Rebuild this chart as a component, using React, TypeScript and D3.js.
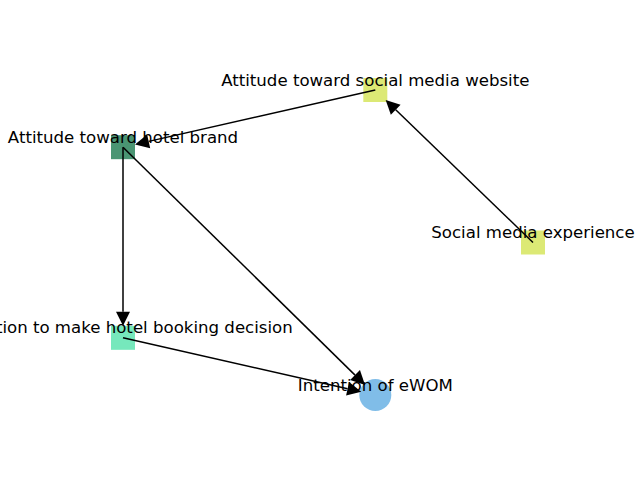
import * as d3 from "d3";

const nodeNames = [
  "Attitude toward social media website",
  "Attitude toward hotel brand",
  "Social media experience",
  "Intention to make hotel booking decision",
  "Intention of eWOM",
];
// layout coordinates (networkx-like)
const nodeX = [0.0, -0.8, 0.5, -0.8, 0.0];
const nodeY = [0.9, 0.6, 0.1, -0.4, -0.7];
const nodeColors = ["#dce975", "#4a9573", "#dce975", "#76e8bc", "#80bde8"];
const nodeShapes = ["s", "s", "s", "s", "o"];
const edges: [number, number][] = [
  [2, 0],
  [0, 1],
  [1, 3],
  [1, 4],
  [3, 4],
];

const W = 640;
const H = 480;

export default function App() {
  const x = d3.scaleLinear().domain([-0.8, 0.5]).range([123, 533]);
  const y = d3.scaleLinear().domain([-0.7, 0.9]).range([395, 90]);
  const half = 12;
  const r = 16;

  const edgeEls = edges.map(([s, t], i) => {
    const x1 = x(nodeX[s]), y1 = y(nodeY[s]);
    const x2 = x(nodeX[t]), y2 = y(nodeY[t]);
    const dx = x2 - x1, dy = y2 - y1;
    const len = Math.hypot(dx, dy);
    const ux = dx / len, uy = dy / len;
    const shrink = nodeShapes[t] === "o" ? r : half / Math.max(Math.abs(ux), Math.abs(uy));
    const ex = x2 - ux * Math.min(shrink, half * 1.2);
    const ey = y2 - uy * Math.min(shrink, half * 1.2);
    const ah = 14, aw = 7;
    const bx = ex - ux * ah, by = ey - uy * ah;
    const pts = [
      [ex, ey],
      [bx - uy * aw, by + ux * aw],
      [bx + uy * aw, by - ux * aw],
    ];
    return (
      <g key={i}>
        <line x1={x1} y1={y1} x2={bx} y2={by} stroke="#000" strokeWidth={1.5} />
        <polygon points={pts.map((p) => p.join(",")).join(" ")} fill="#000" />
      </g>
    );
  });

  return (
    <svg
      width={W}
      height={H}
      style={{ position: "absolute", left: 0, top: 0, background: "#fff" }}
      fontFamily="DejaVu Sans"
    >
      {nodeNames.map((n, i) =>
        nodeShapes[i] === "o" ? (
          <circle key={n} cx={x(nodeX[i])} cy={y(nodeY[i])} r={r} fill={nodeColors[i]} />
        ) : (
          <rect
            key={n}
            x={x(nodeX[i]) - half}
            y={y(nodeY[i]) - half}
            width={half * 2}
            height={half * 2}
            fill={nodeColors[i]}
          />
        )
      )}
      {edgeEls}
      {nodeNames.map((n, i) => (
        <text
          key={n}
          x={x(nodeX[i])}
          y={y(nodeY[i]) - 10}
          textAnchor="middle"
          dominantBaseline="central"
          fontSize={16.6}
        >
          {n}
        </text>
      ))}
    </svg>
  );
}
